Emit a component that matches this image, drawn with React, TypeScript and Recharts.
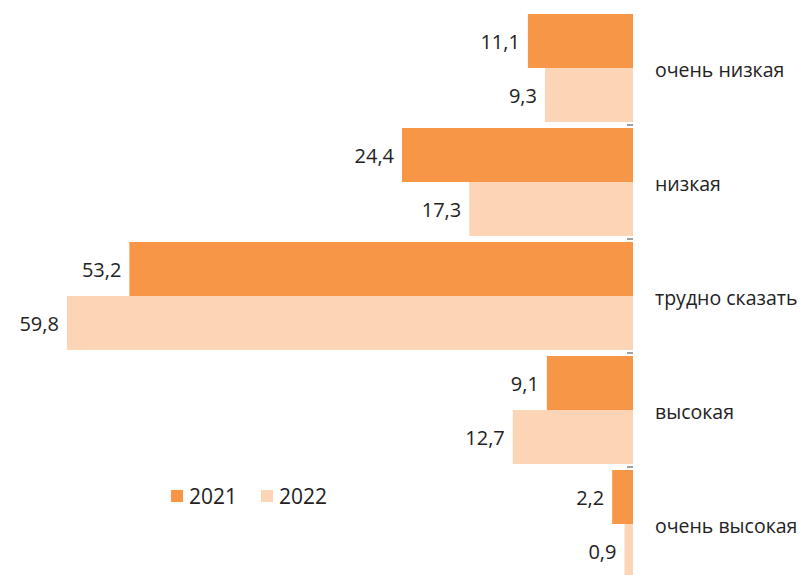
import React from 'react';
import { BarChart, Bar, XAxis, YAxis, LabelList } from 'recharts';

const categories = ['очень низкая', 'низкая', 'трудно сказать', 'высокая', 'очень высокая'];
const values2021 = [11.1, 24.4, 53.2, 9.1, 2.2];
const values2022 = [9.3, 17.3, 59.8, 12.7, 0.9];
const seriesNames = ['2021', '2022'];
const colors = ['#F79646', '#FBD5B5'];

const data = categories.map((name, i) => ({ name, v2021: values2021[i], v2022: values2022[i] }));

const FONT = '"Open Sans", sans-serif';
const TEXT = '#222222';
const CHART_H = 590;
const MARGIN = { top: 11, right: 0, left: 65, bottom: 9 };
const BAND = (CHART_H - MARGIN.top - MARGIN.bottom) / categories.length;

const fmt = (v: number) => String(v).replace('.', ',');

const ValueLabel = (props: any) => {
  const { x, y, width, height, value } = props;
  const left = Math.min(Number(x), Number(x) + Number(width));
  return (
    <text x={left - 8} y={Number(y) + Number(height) / 2} textAnchor="end" dominantBaseline="central"
      fontFamily={FONT} fontSize={20} fill={TEXT}>
      {fmt(value)}
    </text>
  );
};

const CatTick = (props: any) => {
  const { x, y, payload } = props;
  return (
    <g>
      <line x1={x - 28} x2={x - 22} y1={y + BAND / 2} y2={y + BAND / 2} stroke="#7f7f7f" strokeWidth={1.5} />
      <text x={x} y={y + 1} textAnchor="start" dominantBaseline="central" fontFamily={FONT} fontSize={19.5} fill={TEXT}>
        {payload.value}
      </text>
    </g>
  );
};

const LegendBox = () => (
  <div style={{ position: 'absolute', left: 171, top: 482, display: 'flex', alignItems: 'center', fontFamily: FONT, fontSize: 21, color: TEXT }}>
    {seriesNames.map((s, i) => (
      <div key={s} style={{ display: 'flex', alignItems: 'center', marginRight: 24 }}>
        <span style={{ display: 'inline-block', width: 12, height: 12, background: colors[i], marginRight: 6 }} />
        <span>{s}</span>
      </div>
    ))}
  </div>
);

export default function App() {
  return (
    <div style={{ position: 'absolute', left: 0, top: 0, width: 805, height: 575, overflow: 'hidden', background: '#fff' }}>
      <BarChart width={805} height={CHART_H} data={data} layout="vertical" margin={MARGIN}
        barCategoryGap={3} barGap={0}>
        <XAxis type="number" domain={[0, 60]} reversed hide />
        <YAxis type="category" dataKey="name" orientation="right" width={172} axisLine={false}
          tickLine={false} tickSize={0} tickMargin={22} tick={<CatTick />} interval={0} />
        <Bar dataKey="v2021" name={seriesNames[0]} fill={colors[0]} isAnimationActive={false}>
          <LabelList dataKey="v2021" content={<ValueLabel />} />
        </Bar>
        <Bar dataKey="v2022" name={seriesNames[1]} fill={colors[1]} isAnimationActive={false}>
          <LabelList dataKey="v2022" content={<ValueLabel />} />
        </Bar>
      </BarChart>
      <LegendBox />
    </div>
  );
}
